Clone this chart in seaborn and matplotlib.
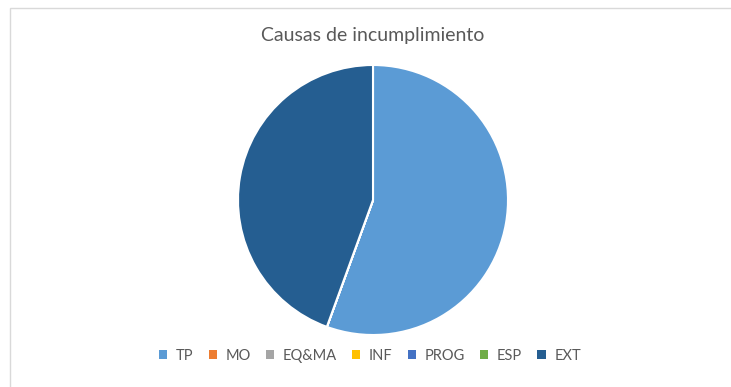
import matplotlib
matplotlib.use("Agg")
import matplotlib.pyplot as plt
import matplotlib.patches as mpatches
import seaborn as sns

# Causes of non-compliance (counts)
categories = ["TP", "MO", "EQ&MA", "INF", "PROG", "ESP", "EXT"]
counts = [5, 0, 0, 0, 0, 0, 4]
colors = ["#5B9BD5", "#ED7D31", "#A5A5A5", "#FFC000", "#4472C4", "#70AD47", "#255E91"]

sns.set_theme(style="white")
plt.rcParams["font.family"] = ["Lato", "DejaVu Sans"]

W, H = 731, 387
fig = plt.figure(figsize=(W / 100, H / 100), dpi=100)

# Chart area frame
fig.add_artist(mpatches.Rectangle((10 / W, -0.05), 1.2, 1 - 8 / H + 0.05,
                                  transform=fig.transFigure, fill=False,
                                  edgecolor="#D9D9D9", linewidth=1.0))

r = 135
cx, cy = 373, 200
ax = fig.add_axes([(cx - r) / W, 1 - (cy + r) / H, 2 * r / W, 2 * r / H])
wedges, _ = ax.pie(counts, colors=colors, startangle=90, counterclock=False,
                   wedgeprops=dict(edgecolor="white", linewidth=1.5))
ax.set_aspect("equal")
ax.set_xlim(-1, 1)
ax.set_ylim(-1, 1)
ax.axis("off")

fig.text(cx / W, 1 - 35 / H, "Causas de incumplimiento", ha="center", va="center",
         fontsize=14, color="#595959")

handles = [mpatches.Patch(facecolor=c, edgecolor="none") for c in colors]
fig.legend(handles, categories, loc="center", bbox_to_anchor=(370 / W, 1 - 356 / H),
           ncol=len(categories), frameon=False, fontsize=10.5, labelcolor="#595959",
           handlelength=0.55, handleheight=0.55, handletextpad=0.6, columnspacing=1.05)

fig.savefig("out.png", dpi=100, facecolor="white")
